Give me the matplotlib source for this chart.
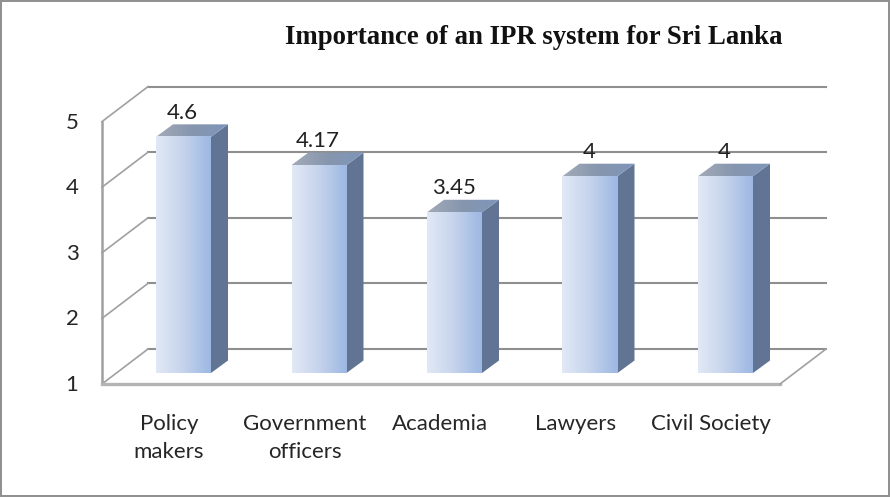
import numpy as np
import matplotlib
matplotlib.use("Agg")
import matplotlib.pyplot as plt
from matplotlib.colors import LinearSegmentedColormap
from matplotlib.patches import Polygon, Rectangle

# values
categories = ["Policy\nmakers", "Government\nofficers", "Academia", "Lawyers", "Civil Society"]
values = [4.6, 4.17, 3.45, 4, 4]
value_labels = ["4.6", "4.17", "3.45", "4", "4"]
y_ticks = [1, 2, 3, 4, 5]

W, H = 890, 497
# pixel sizes of one category step and one unit of value
step = 135.5
unit = 65.6
x0_px, y0_px = 183.5, 373


def px(x):
    return x / step


def py(y):
    return y / unit


fig = plt.figure(figsize=(W / 100, H / 100), dpi=100)
ax = fig.add_axes([0, 0, 1, 1])
ax.set_xlim(-x0_px / step, (W - x0_px) / step)
ax.set_ylim(1 - (H - y0_px) / unit, 1 + y0_px / unit)
ax.axis("off")

# outer border
ax.add_patch(Rectangle((ax.get_xlim()[0] + px(1), ax.get_ylim()[0] + py(1)), px(W - 2), py(H - 2),
                       fill=False, edgecolor="#8e8e8e", linewidth=1.4))

# back wall, side wall and floor (offsets from the bar plane)
back_l = -x0_px / step + px(148)
back_r = -x0_px / step + px(826)
front_l = -x0_px / step + px(102)
front_r = -x0_px / step + px(780)
back_dy = py(24)
front_dy = py(-11)
wall_color = "#8f8f8f"

for t in y_ticks:
    ax.plot([back_l, back_r], [t + back_dy, t + back_dy], color=wall_color, lw=1.5, zorder=1)
    ax.plot([front_l, back_l], [t + front_dy, t + back_dy], color="#a0a0a0", lw=1.2, zorder=1)
ax.plot([front_l, front_l], [1 + front_dy, 5 + front_dy], color="#a0a0a0", lw=1.8, zorder=1)
ax.plot([front_l, front_r], [1 + front_dy, 1 + front_dy], color="#b4b4b4", lw=2.4, zorder=1)
ax.plot([front_r, back_r], [1 + front_dy, 1 + back_dy], color="#a0a0a0", lw=1.2, zorder=1)

# bars
face_cmap = LinearSegmentedColormap.from_list("face", ["#e2e9f6", "#c5d3ec", "#9db8e3"])
top_cmap = LinearSegmentedColormap.from_list("top", ["#a2aab8", "#8696ae", "#7e95bb"])
grad = np.linspace(0, 1, 64).reshape(1, -1)
bar_w = 55 / step
dx, dy = px(17), py(12.5)

for i, v in enumerate(values):
    l, r = i - bar_w / 2, i + bar_w / 2
    # side
    ax.add_patch(Polygon([(r, 1), (r + dx, 1 + dy), (r + dx, v + dy), (r, v)],
                         facecolor="#617493", edgecolor="none", zorder=2))
    # top
    top = Polygon([(l, v), (l + dx, v + dy), (r + dx, v + dy), (r, v)],
                  facecolor="none", edgecolor="none", zorder=2)
    ax.add_patch(top)
    im = ax.imshow(grad, cmap=top_cmap, extent=[l, r + dx, v, v + dy], aspect="auto", zorder=2)
    im.set_clip_path(top)
    # front
    ax.imshow(grad, cmap=face_cmap, extent=[l, r, 1, v], aspect="auto", zorder=3)
    ax.text(i - px(1), v + py(24), value_labels[i], ha="center", va="center",
            fontsize=16, family="Lato", color="#222222", zorder=4)
    ax.text(i - px(14.5), 1 + py(-41), categories[i], ha="center", va="top",
            fontsize=16, family="Lato", color="#262626", linespacing=1.5, zorder=4)

ax.set_xlim(-x0_px / step, (W - x0_px) / step)
ax.set_ylim(1 - (H - y0_px) / unit, 1 + y0_px / unit)

# value axis labels
for t in y_ticks:
    ax.text(-x0_px / step + px(72), t + py(-12), str(t), ha="center", va="center",
            fontsize=16, family="Lato", color="#262626")

ax.text(-x0_px / step + px(534), 1 + py(y0_px - 37), "Importance of an IPR system for Sri Lanka",
        ha="center", va="center", fontsize=19.3, fontweight="bold", family="Liberation Serif", color="#111111")

fig.savefig("out.png", dpi=100)
